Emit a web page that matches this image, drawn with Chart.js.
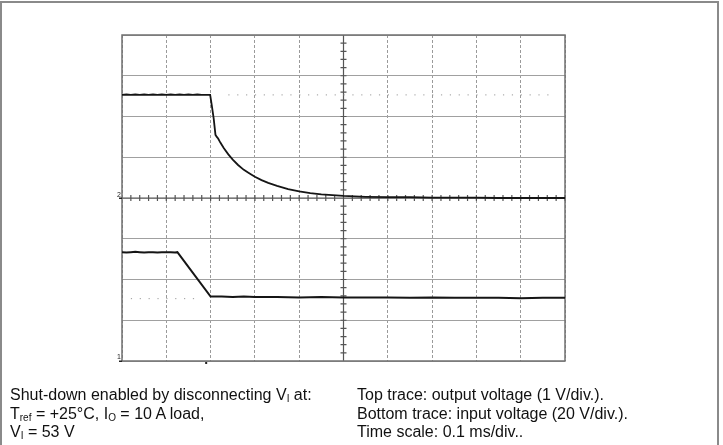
<!DOCTYPE html>
<html>
<head>
<meta charset="utf-8">
<script src="https://cdn.jsdelivr.net/npm/chart.js@4"></script>
<style>
  html, body { margin: 0; padding: 0; background: #fff; }
  #wrap { position: relative; width: 723px; height: 445px; overflow: hidden; }
  #frame { position: absolute; left: 0; top: 1px; width: 715px; height: 470px; border: 2px solid #8a8a8a; }
  #scope { position: absolute; left: 0; top: 0; }
  .note { position: absolute; top: 386px; font-family: "Liberation Sans", Arial, sans-serif; font-size: 16px; line-height: 18.5px; color: #111; white-space: nowrap; }
  .note sub { font-size: 10px; vertical-align: -2px; line-height: 0; }
</style>
</head>
<body>
<div id="wrap">
  <div id="frame"></div>
  <canvas id="scope" width="723" height="445"></canvas>
  <div class="note" style="left:10px">
    Shut-down enabled by disconnecting V<sub>I</sub> at:<br>
    T<sub>ref</sub> = +25°C, I<sub>O</sub> = 10 A load,<br>
    V<sub>I</sub> = 53 V
  </div>
  <div class="note" style="left:357px">
    Top trace: output voltage (1 V/div.).<br>
    Bottom trace: input voltage (20 V/div.).<br>
    Time scale: 0.1 ms/div..
  </div>
</div>
<script>
// time in divisions (0.1 ms/div), level in divisions
const topTime = [0, 0.1, 0.2, 0.3, 0.4, 0.5, 0.6, 0.7, 0.8, 0.9, 1.0, 1.1, 1.2, 1.3, 1.4, 1.5, 1.6, 1.7, 1.8, 1.9, 1.99,
  2.03, 2.07, 2.11, 2.14, 2.17, 2.22, 2.3, 2.4, 2.5, 2.62, 2.75, 2.88, 3.0, 3.15, 3.3, 3.5, 3.75, 4.0, 4.25, 4.5, 4.75,
  5.0, 5.25, 5.5, 6.0, 6.5, 7.0, 7.5, 8.0, 8.5, 9.0, 9.5, 10.0];
const topLevel = [2.53, 2.54, 2.53, 2.54, 2.53, 2.54, 2.53, 2.54, 2.53, 2.54, 2.53, 2.54, 2.53, 2.54, 2.53, 2.54, 2.53, 2.54, 2.53, 2.53, 2.53,
  2.25, 1.95, 1.55, 1.5, 1.46, 1.36, 1.22, 1.07, 0.94, 0.81, 0.69, 0.6, 0.52, 0.44, 0.37, 0.3, 0.22, 0.16, 0.12, 0.09, 0.07,
  0.05, 0.04, 0.03, 0.02, 0.02, 0.01, 0.01, 0.01, 0.0, 0.0, 0.0, 0.0];

const bottomTime = [0, 0.1, 0.2, 0.3, 0.4, 0.5, 0.6, 0.7, 0.8, 0.9, 1.0, 1.1, 1.2, 1.25,
  2.0, 2.25, 2.5, 2.75, 3.0, 3.5, 4.0, 4.5, 5.0, 5.5, 6.0, 6.5, 7.0, 7.5, 8.0, 8.5, 9.0, 9.5, 10.0];
const bottomLevel = [-1.33, -1.34, -1.33, -1.32, -1.33, -1.34, -1.33, -1.33, -1.34, -1.33, -1.33, -1.33, -1.34, -1.33,
  -2.42, -2.42, -2.43, -2.42, -2.43, -2.43, -2.44, -2.43, -2.44, -2.44, -2.44, -2.45, -2.44, -2.45, -2.45, -2.45, -2.46, -2.45, -2.45];

// dotted reference markers
const refTopTime = [2.4, 9.8];
const refTopLevel = [2.53, 2.53];
const refBottomTime = [0.2, 1.8];
const refBottomLevel = [-2.47, -2.47];

const pts = (xs, ys) => xs.map((x, i) => ({ x: x, y: ys[i] }));

const scopeDecor = {
  id: 'scopeDecor',
  beforeDatasetsDraw(chart) {
    const { ctx, chartArea: a, scales: { x, y } } = chart;
    const x0 = x.getPixelForValue(5), y0 = y.getPixelForValue(0);
    ctx.save();
    ctx.strokeStyle = '#555';
    ctx.lineWidth = 1.2;
    ctx.beginPath();
    ctx.moveTo(a.left, y0); ctx.lineTo(a.right, y0);
    ctx.moveTo(x0, a.top); ctx.lineTo(x0, a.bottom);
    for (let v = 0.2; v < 10; v += 0.2) {
      const px = x.getPixelForValue(v);
      ctx.moveTo(px, y0 - 3); ctx.lineTo(px, y0 + 3);
    }
    for (let v = -3.8; v < 4; v += 0.2) {
      const py = y.getPixelForValue(v);
      ctx.moveTo(x0 - 3, py); ctx.lineTo(x0 + 3, py);
    }
    ctx.stroke();
    // plot frame
    ctx.strokeStyle = '#707070';
    ctx.lineWidth = 1.5;
    ctx.strokeRect(a.left, a.top, a.right - a.left, a.bottom - a.top);
    // channel / trigger markers
    ctx.fillStyle = '#222';
    ctx.font = '7px "Liberation Sans", Arial, sans-serif';
    ctx.textAlign = 'right';
    ctx.fillText('2', a.left - 1, y0 - 1);
    ctx.fillText('1', a.left - 1, a.bottom - 2);
    ctx.fillRect(a.left - 3, y0 - 0.5, 3, 1.5);
    ctx.fillRect(a.left - 3, a.bottom - 0.5, 3, 1.5);
    ctx.fillRect(x.getPixelForValue(1.9) - 1, a.bottom + 1, 2, 2);
    ctx.restore();
  }
};

new Chart(document.getElementById('scope'), {
  type: 'scatter',
  data: {
    datasets: [
      { data: pts(refTopTime, refTopLevel), showLine: true, borderColor: '#999', borderWidth: 1, borderDash: [1.2, 7.66], pointRadius: 0 },
      { data: pts(refBottomTime, refBottomLevel), showLine: true, borderColor: '#999', borderWidth: 1, borderDash: [1.2, 7.66], pointRadius: 0 },
      { data: pts(topTime, topLevel), showLine: true, borderColor: '#151515', borderWidth: 1.8, pointRadius: 0, tension: 0 },
      { data: pts(bottomTime, bottomLevel), showLine: true, borderColor: '#151515', borderWidth: 2, pointRadius: 0, tension: 0 }
    ]
  },
  options: {
    responsive: false,
    animation: false,
    layout: { padding: { left: 122, right: 158, top: 35, bottom: 84 } },
    plugins: { legend: { display: false }, tooltip: { enabled: false } },
    scales: {
      x: {
        type: 'linear', min: 0, max: 10,
        ticks: { display: false, stepSize: 1 },
        grid: { color: '#9a9a9a', lineWidth: 1, drawTicks: false },
        border: { display: false, dash: [3, 2] }
      },
      y: {
        type: 'linear', min: -4, max: 4,
        ticks: { display: false, stepSize: 1 },
        grid: { color: '#a0a0a0', lineWidth: 1, drawTicks: false },
        border: { display: false }
      }
    }
  },
  plugins: [scopeDecor]
});
</script>
</body>
</html>
